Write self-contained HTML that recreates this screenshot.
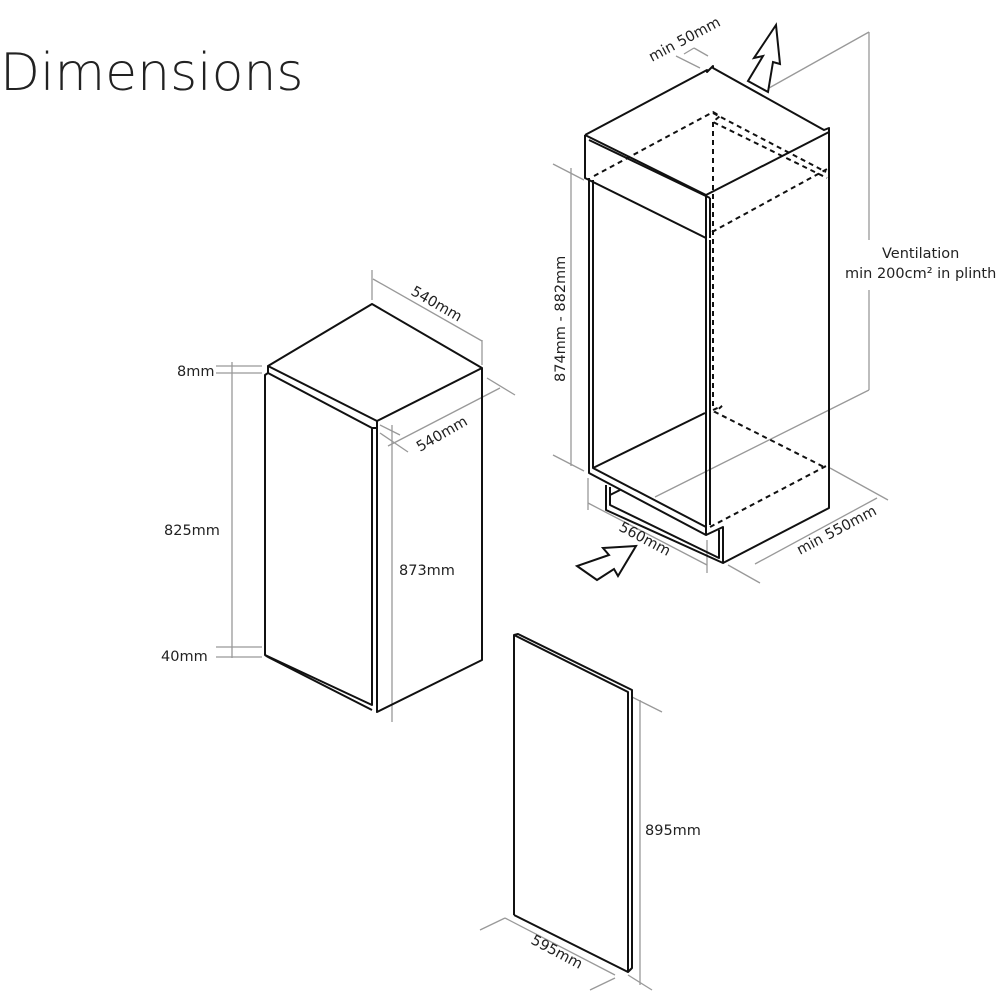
<!DOCTYPE html>
<html><head><meta charset="utf-8"><style>
html,body{margin:0;padding:0;background:#fff;}
svg{display:block;}
text{font-family:"DejaVu Sans","Liberation Sans",sans-serif;fill:#222;}
</style></head><body>
<svg width="1000" height="1000" viewBox="0 0 1000 1000" xmlns="http://www.w3.org/2000/svg">
<text x="0" y="90" font-size="52" style="font-family:'DejaVu Sans','Liberation Sans',sans-serif;font-weight:300" fill="#222">Dimensions</text>

<g stroke="#999" stroke-width="1.3" fill="none">
 <line x1="232" y1="362" x2="232" y2="658"/>
 <line x1="216" y1="366" x2="262" y2="366"/>
 <line x1="216" y1="373" x2="262" y2="373"/>
 <line x1="216" y1="647" x2="262" y2="647"/>
 <line x1="216" y1="657" x2="262" y2="657"/>
 <line x1="372" y1="270" x2="372" y2="300"/>
 <line x1="482" y1="340" x2="482" y2="365"/>
 <line x1="373" y1="279" x2="482" y2="341"/>
 <line x1="487" y1="378" x2="515" y2="395"/>
 <line x1="380" y1="425" x2="400" y2="435"/>
 <line x1="380" y1="433" x2="408" y2="452"/>
 <line x1="388" y1="446" x2="500" y2="388"/>
 <line x1="392" y1="425" x2="392" y2="722"/>
 <line x1="571" y1="168" x2="571" y2="466"/>
 <line x1="553" y1="164" x2="584" y2="180"/>
 <line x1="553" y1="455" x2="584" y2="471"/>
 <line x1="588" y1="478" x2="588" y2="510"/>
 <line x1="707" y1="540" x2="707" y2="573"/>
 <line x1="588" y1="503" x2="707" y2="565"/>
 <line x1="830" y1="468" x2="888" y2="500"/>
 <line x1="728" y1="565" x2="760" y2="583"/>
 <line x1="755" y1="564" x2="877" y2="498"/>
 <line x1="684" y1="54" x2="694" y2="48"/>
 <line x1="694" y1="48" x2="708" y2="56"/>
 <line x1="676" y1="56" x2="700" y2="68"/>
 <line x1="769" y1="88" x2="869" y2="32"/>
 <line x1="869" y1="32" x2="869" y2="240"/>
 <line x1="869" y1="290" x2="869" y2="390"/>
 <line x1="869" y1="390" x2="655" y2="497"/>
 <line x1="640" y1="700" x2="640" y2="985"/>
 <line x1="632" y1="697" x2="662" y2="712"/>
 <line x1="628" y1="975" x2="652" y2="990"/>
 <line x1="480" y1="930" x2="505" y2="918"/>
 <line x1="505" y1="918" x2="615" y2="975"/>
 <line x1="590" y1="990" x2="615" y2="978"/>
</g>

<g stroke="#111" stroke-width="2" fill="none" stroke-linejoin="round">
 <polygon points="268,366 372,304 482,368 377,421" />
 <polyline points="482,368 482,660 377,712 377,421"/>
 <polyline points="268,366 268,373 372,428 372,705 265,655 265,375 268,373"/>
 <line x1="372" y1="428" x2="377" y2="428"/>
 <line x1="265" y1="655" x2="268" y2="657"/>
 <line x1="268" y1="657" x2="372" y2="710"/>
 <polyline points="585,135 707,70 707,72 713,66 713,68 824,130 829,128 829,508 723,563"/>
 <polyline points="585,135 706,195 829,132"/>
 <polyline points="585,135 585,178 706,238 706,195"/>
 <polyline points="589,140 710,198"/>
 <line x1="710" y1="198" x2="710" y2="238"/>
 <polyline points="589,178 589,473 706,535 706,238"/>
 <polyline points="593,180 593,468 706,527"/>
 <line x1="710" y1="240" x2="710" y2="525"/>
 <line x1="593" y1="468" x2="705" y2="413"/>
 <polyline points="606,485 606,510 723,563 723,527 706,535"/>
 <polyline points="610,487 610,505 719,558 719,530"/>
 <line x1="610" y1="495" x2="620" y2="490"/>
</g>

<g stroke="#111" stroke-width="2" fill="none" stroke-dasharray="5,4">
 <polyline points="594,176 713,112 720,116 713,122 827,178"/>
 <line x1="713" y1="122" x2="713" y2="410"/>
 <line x1="712" y1="232" x2="829" y2="168"/>
 <line x1="713" y1="113" x2="826" y2="172"/>
 <polyline points="713,410 722,406 715,412 826,468"/>
 <line x1="710" y1="527" x2="828" y2="465"/>
</g>

<g stroke="#111" stroke-width="2" fill="#fff" stroke-linejoin="miter">
 <polygon points="776,25 754,58 763,56 748,81 768,92 773,62 780,64"/>
 <polygon points="577,566 597,580 614,569 618,576 636,546 603,548 609,555"/>
</g>

<g stroke="#111" stroke-width="2" fill="none" stroke-linejoin="round">
 <polyline points="514,915 514,635 518,634 632,690 632,968 628,972 514,915"/>
 <polyline points="514,635 628,692 628,972"/>
</g>

<g font-size="14.5">
 <text x="177" y="376">8mm</text>
 <text x="164" y="535">825mm</text>
 <text x="161" y="661">40mm</text>
 <text x="399" y="575">873mm</text>
 <text x="645" y="835">895mm</text>
 <text x="882" y="258">Ventilation</text>
 <text x="845" y="278">min 200cm² in plinth</text>
 <text transform="translate(410,294) rotate(30)">540mm</text>
 <text transform="translate(420,452) rotate(-30)">540mm</text>
 <text transform="translate(565,382) rotate(-90)">874mm - 882mm</text>
 <text transform="translate(618,530) rotate(28)">560mm</text>
 <text transform="translate(800,555) rotate(-28)">min 550mm</text>
 <text transform="translate(652,62) rotate(-28)">min 50mm</text>
 <text transform="translate(530,943) rotate(28)">595mm</text>
</g>
</svg>
</body></html>
